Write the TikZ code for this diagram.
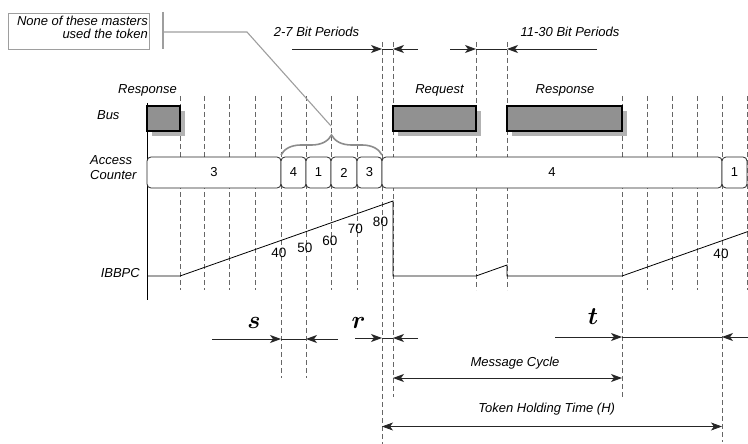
\documentclass[tikz,border=0pt]{standalone}
\usepackage{amsmath}
\usepackage{fontspec}
\setmainfont{Liberation Sans}
\usepackage{tikz}
\usetikzlibrary{arrows.meta}
\usetikzlibrary{shadows}
\usetikzlibrary{decorations,decorations.pathreplacing}
\definecolor{busgray}{gray}{0.57}
\definecolor{shadegray}{gray}{0.7}
\definecolor{notegray}{gray}{0.62}
\tikzstyle{grid}=[black!60, line width=0.6pt, dash pattern=on 5pt off 3pt]
\tikzstyle{dim}=[black!85, line width=0.8pt, -{Stealth[length=11pt,width=8pt,inset=3pt]}]
\tikzstyle{dimdim}=[black!85, line width=0.8pt, {Stealth[length=11pt,width=8pt,inset=3pt]}-{Stealth[length=11pt,width=8pt,inset=3pt]}]
\tikzstyle{busbox}=[draw=black, line width=1.2pt, fill=busgray, minimum height=25pt, inner sep=0pt, drop shadow={shadow xshift=5pt, shadow yshift=-5pt, fill=shadegray, opacity=1}]
\tikzstyle{cntbox}=[draw=black!85, fill=white, line width=0.8pt, rounded corners=4pt, minimum height=31pt, inner sep=0pt, font=\fontsize{13}{15}\selectfont]
\tikzstyle{lbl}=[inner sep=0pt, font=\fontsize{13}{15}\selectfont\itshape]
\tikzstyle{val}=[inner sep=0pt, font=\fontsize{13.5}{15}\selectfont]
\tikzstyle{var}=[inner sep=0pt, font=\fontsize{24.88}{26}\selectfont]

\begin{document}
\begin{tikzpicture}[x=1pt, y=-1pt]
\useasboundingbox (0,0) rectangle (748,444);
\foreach \x/\t/\b in {180/96/290, 204/96/290, 229/96/290, 255/96/290, 281/96/378, 306/96/378,
  331/96/290, 357/96/290, 382/42/444, 393/42/397, 476/42/290, 507/42/290, 622/96/397,
  647/96/290, 672/96/290, 697/96/290, 722/96/442, 747/96/290}
 \draw[grid] (\x,\t) -- (\x,\b);
\draw[line width=0.9pt] (147,103) -- (147,300);

% bus activity
\node[lbl, anchor=base] (bus) at (108.3,119.3) {Bus};
\foreach \n/\a/\b/\lx/\t in {1/147/180/147.5/Response, 2/393/476/439.5/Request, 3/507/622/565/Response} {
 \node[busbox, minimum width=\b-\a] (m\n) at ({(\a+\b)/2},118.5) {};
 \node[lbl, anchor=base] (tm\n) at (\lx,94) {\t};
}

% access counter
\node[lbl, align=left, anchor=north west] (acc) at (90,155.5) {Access\\Counter};
\foreach \n/\a/\b/\v in {1/147/281/3, 2/281/306/4, 3/306/331/1, 4/331/357/2, 5/357/382/3, 6/382/722/4, 7/722/747/1}
 \node[cntbox, minimum width=\b-\a] (c\n) at ({(\a+\b)/2},172.5) {\v};

% passed masters
\coordinate (bl) at (281,155);
\coordinate (br) at (382,155);
\draw[black!45, line width=1.6pt, decorate, decoration={brace, amplitude=20pt}] (bl) -- (br);
\node[draw=notegray, line width=0.9pt, minimum width=141pt, minimum height=36pt, inner sep=0pt] (note) at (78.5,31) {};
\node[lbl, align=right, anchor=north east, font=\fontsize{13}{13.5}\selectfont\itshape] (notetxt) at (148,15.5) {None of these masters\\used the token};
\coordinate (knee) at (247,32);
\coordinate (bar) at (163,32);
\coordinate (tip) at (331,126);
\draw[notegray, line width=1.1pt] (163,12) -- (163,49);
\draw[notegray, line width=1.1pt] (tip) -- (knee) -- (bar);

% IBBPC
\node[lbl, anchor=base east] (ib) at (140,277.3) {IBBPC};
\draw[line width=0.8pt] (147,276) -- (180,276) -- (393,201) -- (393,276) -- (476,276) -- (507,265)
 -- (507,276) -- (622,276) -- (748,231.5);
\foreach \v/\x/\y [count=\i] in {40/279/253.3, 50/305/248.3, 60/330/241, 70/355.5/228.5, 80/380.5/222, 40/721/253.5}
 \node[val] (n\i) at (\x,\y) {\v};

% gaps
\node[lbl, anchor=base] (g1) at (316.5,36.5) {2-7 Bit Periods};
\node[lbl, anchor=base] (g2) at (570,37) {11-30 Bit Periods};
\node[var, anchor=base] (vs) at (254,328) {$\boldsymbol{s}$};
\node[var, anchor=base] (vr) at (358.7,328) {$\boldsymbol{r}$};
\node[var, anchor=base] (vt) at (593,324.5) {$\boldsymbol{t}$};
\foreach \n/\l/\xa/\xb/\r/\y in {1/292/382/393/418/49, 2/450/476/507/597/49, 3/212/281/306/338/339,
  4/355/382/393/418/338, 5/555/622/722/748/337} {
 \coordinate (l\n) at (\l,\y);
 \coordinate (a\n) at (\xa,\y);
 \coordinate (b\n) at (\xb,\y);
 \coordinate (r\n) at (\r,\y);
 \draw[dim] (l\n) -- (a\n);
 \draw[black!85, line width=0.8pt] (a\n) -- (b\n);
 \draw[dim] (r\n) -- (b\n);
}

% cycle and holding time
\coordinate (mc1) at (393,378);
\coordinate (mc2) at (622,378);
\coordinate (th1) at (382,426.5);
\coordinate (th2) at (722,426.5);
\draw[dimdim] (mc1) -- (mc2);
\draw[dimdim] (th1) -- (th2);
\node[lbl, anchor=base] (mc) at (515,366) {Message Cycle};
\node[lbl, anchor=base] (th) at (546.7,412.5) {Token Holding Time (H)};
\end{tikzpicture}
\end{document}
